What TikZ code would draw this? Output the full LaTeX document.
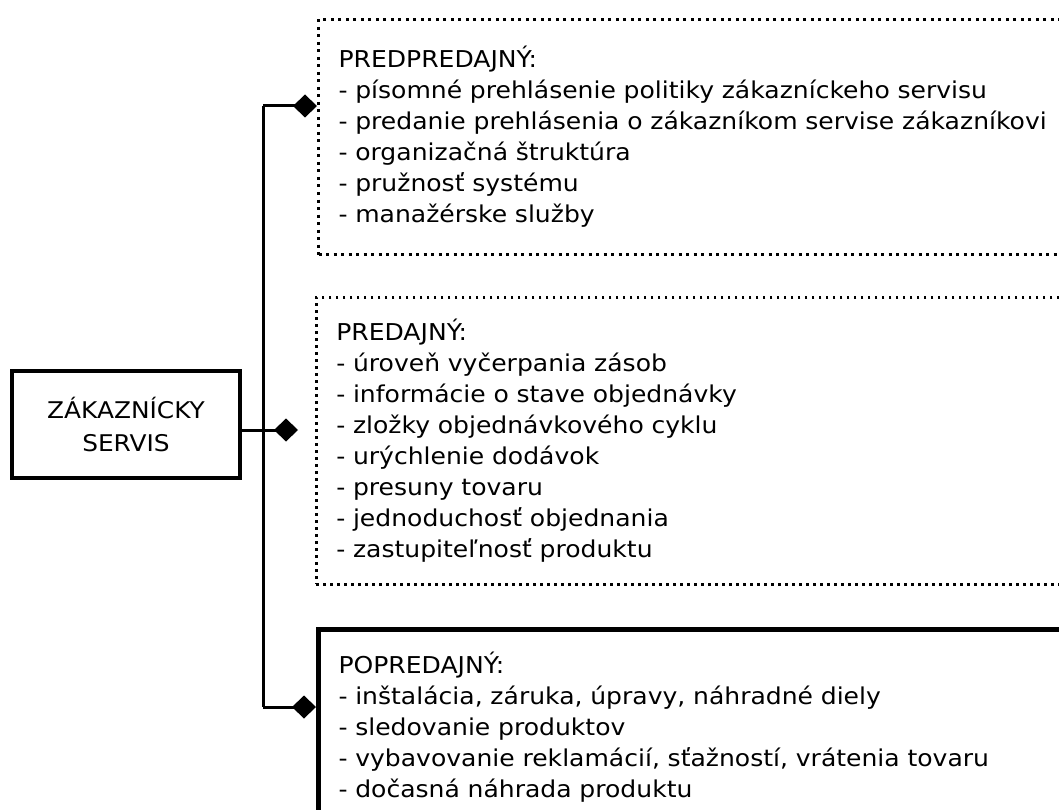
\documentclass[tikz,border=0pt]{standalone}
\usepackage{fontspec}
\setmainfont{DejaVu Sans}[FakeStretch=1.08]
\usetikzlibrary{arrows.meta}
\begin{document}
\begin{tikzpicture}[x=1pt,y=-1pt,
  every node/.style={font=\fontsize{23.2}{31}\selectfont},
  group/.style={anchor=north west, align=left, text width=720pt,
    inner xsep=16pt, minimum width=760pt},
  wire/.style={line width=3pt},
  tipd/.style={-{Diamond[length=24pt,width=23pt]}}]
\path[use as bounding box] (0,0) rectangle (1059,810);
\clip (0,0) rectangle (1059,810);

% root box
\node[draw, line width=3.5pt, minimum width=228pt, minimum height=107pt,
  align=center, font=\fontsize{23}{33}\selectfont] (main) at (126,424.5) {ZÁKAZNÍCKY\\SERVIS};

% three service phases
\node[group, draw, line width=3pt, dash pattern=on 3pt off 4.5pt,
  minimum height=235pt] (pre) at (317,18) {PREDPREDAJNÝ:\\
- písomné prehlásenie politiky zákazníckeho servisu\\
- predanie prehlásenia o zákazníkom servise zákazníkovi\\
- organizačná štruktúra\\
- pružnosť systému\\
- manažérske služby};

\node[group, draw, line width=2.5pt, dash pattern=on 2.5pt off 4.5pt,
  minimum height=287pt] (sale) at (315,296) {PREDAJNÝ:\\
- úroveň vyčerpania zásob\\
- informácie o stave objednávky\\
- zložky objednávkového cyklu\\
- urýchlenie dodávok\\
- presuny tovaru\\
- jednoduchosť objednania\\
- zastupiteľnosť produktu};

\node[group, draw, line width=5pt, minimum height=195pt] (post) at (316,627) {POPREDAJNÝ:\\
- inštalácia, záruka, úpravy, náhradné diely\\
- sledovanie produktov\\
- vybavovanie reklamácií, sťažností, vrátenia tovaru\\
- dočasná náhrada produktu};

% connectors
\coordinate (j1) at (263,106);
\coordinate (j3) at (263,707);
\draw[wire] (j1) -- (j3);
\draw[wire, tipd] (j1) -- (j1 -| pre.west);
\draw[wire, tipd, shorten >=17pt] ([yshift=-5.5pt]main.east) -- ([yshift=-5.5pt]main.east -| sale.west);
\draw[wire, tipd] (j3) -- (j3 -| post.west);
\end{tikzpicture}
\end{document}
